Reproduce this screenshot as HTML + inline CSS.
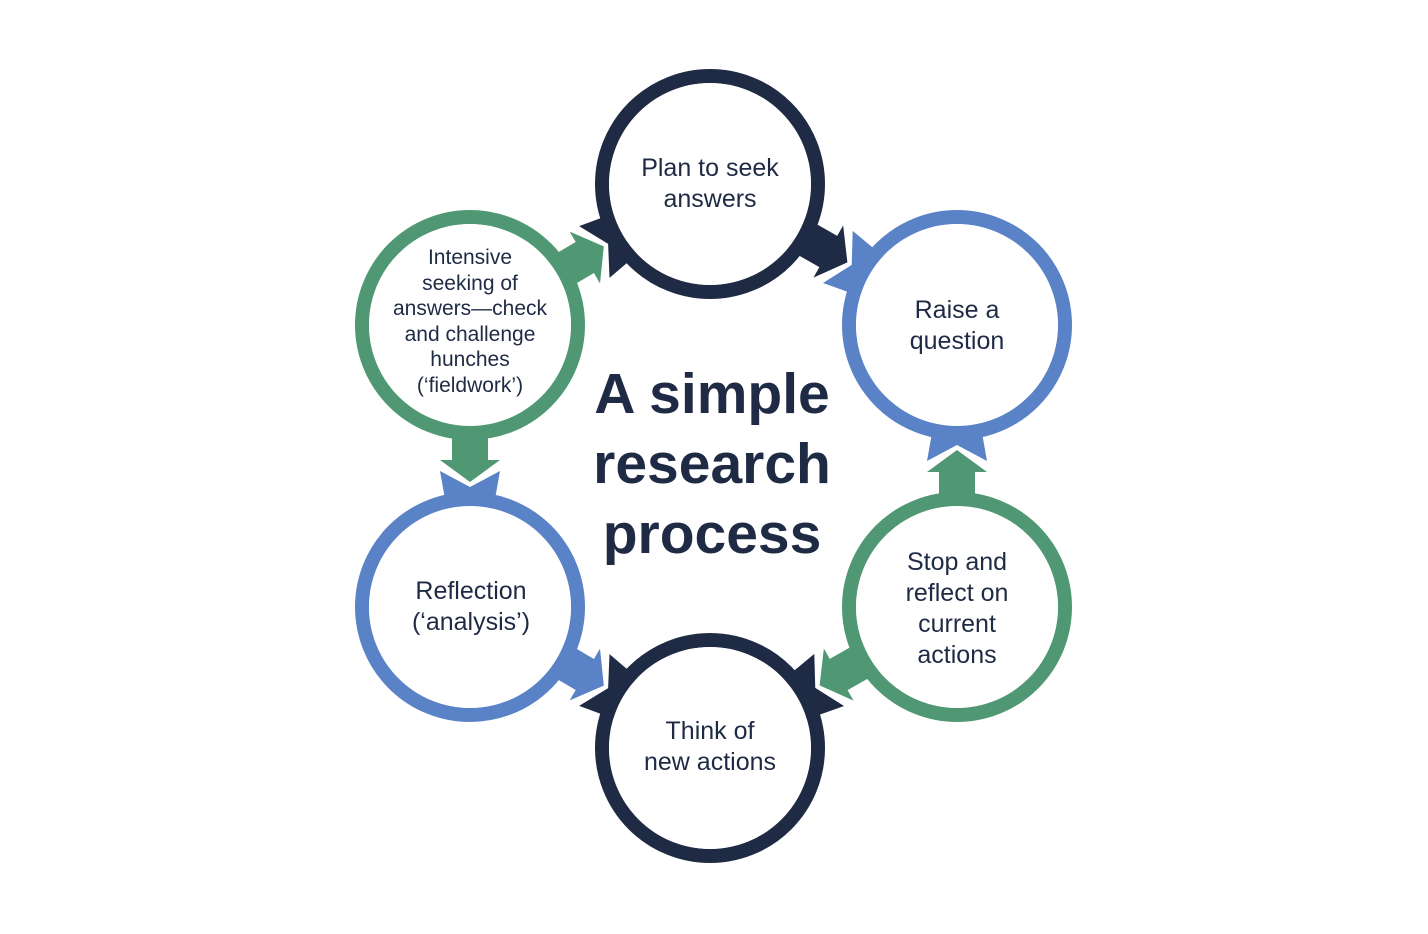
<!DOCTYPE html>
<html><head><meta charset="utf-8"><style>
html,body{margin:0;padding:0;background:#fff;}
svg{display:block;}
text{font-family:"Liberation Sans","DejaVu Sans",sans-serif;fill:#1f2a44;text-anchor:middle;}
</style></head><body>
<svg width="1428" height="934" viewBox="0 0 1428 934" xmlns="http://www.w3.org/2000/svg">
<defs>
<polygon id="arr" points="-50,-18 -6,-18 -6,-30 16,0 -6,30 -6,18 -50,18"/>
<polygon id="notch" points="5,-30 50,-22 50,22 5,30 21,0"/>
</defs>
<g fill="none" stroke-width="14">
<circle cx="710" cy="184" r="108" stroke="#1f2a44"/>
<circle cx="957" cy="325" r="108" stroke="#5a82c6"/>
<circle cx="957" cy="607" r="108" stroke="#4f9873"/>
<circle cx="710" cy="748" r="108" stroke="#1f2a44"/>
<circle cx="470" cy="607" r="108" stroke="#5a82c6"/>
<circle cx="470" cy="325" r="108" stroke="#4f9873"/>
</g>
<g transform="translate(590,254.5) rotate(-30.4)"><use href="#arr" fill="#4f9873"/><use href="#notch" fill="#1f2a44"/></g>
<g transform="translate(833.5,254.5) rotate(29.7)"><use href="#arr" fill="#1f2a44"/><use href="#notch" fill="#5a82c6"/></g>
<g transform="translate(957,466) rotate(-90)"><use href="#arr" fill="#4f9873"/><use href="#notch" fill="#5a82c6"/></g>
<g transform="translate(833.5,677.5) rotate(150.3)"><use href="#arr" fill="#4f9873"/><use href="#notch" fill="#1f2a44"/></g>
<g transform="translate(590,677.5) rotate(30.4)"><use href="#arr" fill="#5a82c6"/><use href="#notch" fill="#1f2a44"/></g>
<g transform="translate(470,466) rotate(90)"><use href="#arr" fill="#4f9873"/><use href="#notch" fill="#5a82c6"/></g>
<g fill="#fff">
<circle cx="710" cy="184" r="101"/>
<circle cx="957" cy="325" r="101"/>
<circle cx="957" cy="607" r="101"/>
<circle cx="710" cy="748" r="101"/>
<circle cx="470" cy="607" r="101"/>
<circle cx="470" cy="325" r="101"/>
</g>

<g font-size="25">
<text x="710" y="176">Plan to seek</text>
<text x="710" y="207">answers</text>
<text x="957" y="318">Raise a</text>
<text x="957" y="349">question</text>
<text x="957" y="570">Stop and</text>
<text x="957" y="601">reflect on</text>
<text x="957" y="632">current</text>
<text x="957" y="663">actions</text>
<text x="710" y="739">Think of</text>
<text x="710" y="770">new actions</text>
<text x="471" y="599">Reflection</text>
<text x="471" y="630">(‘analysis’)</text>
</g>
<g font-size="21">
<text x="470" y="264">Intensive</text>
<text x="470" y="290">seeking of</text>
<text x="470" y="315">answers—check</text>
<text x="470" y="341">and challenge</text>
<text x="470" y="366">hunches</text>
<text x="470" y="392">(‘fieldwork’)</text>
</g>
<g font-size="57" font-weight="bold">
<text x="712" y="413">A simple</text>
<text x="712" y="483">research</text>
<text x="712" y="553">process</text>
</g>
</svg>
</body></html>
